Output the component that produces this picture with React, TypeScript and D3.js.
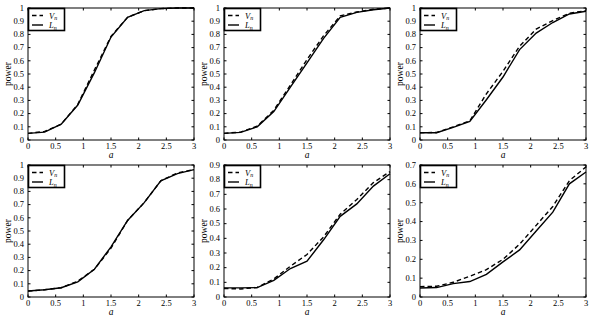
import React from "react";
import * as d3 from "d3";

const aValues = [0, 0.3, 0.6, 0.9, 1.2, 1.5, 1.8, 2.1, 2.4, 2.7, 3.0];
const xTicks = [0, 0.5, 1, 1.5, 2, 2.5, 3];

const v1 = [0.05, 0.065, 0.12, 0.27, 0.53, 0.785, 0.93, 0.98, 0.995, 1.0, 1.0];
const l1 = [0.05, 0.06, 0.12, 0.265, 0.51, 0.78, 0.93, 0.98, 0.995, 1.0, 1.0];
const v2 = [0.05, 0.06, 0.105, 0.225, 0.415, 0.61, 0.79, 0.94, 0.97, 0.99, 1.0];
const l2 = [0.05, 0.058, 0.1, 0.215, 0.4, 0.585, 0.77, 0.93, 0.967, 0.987, 1.0];
const v3 = [0.055, 0.057, 0.1, 0.145, 0.35, 0.52, 0.71, 0.84, 0.905, 0.96, 0.98];
const l3 = [0.055, 0.055, 0.095, 0.14, 0.305, 0.477, 0.685, 0.81, 0.89, 0.955, 0.975];
const v4 = [0.045, 0.055, 0.07, 0.12, 0.21, 0.37, 0.58, 0.715, 0.88, 0.94, 0.965];
const l4 = [0.045, 0.055, 0.07, 0.115, 0.21, 0.38, 0.58, 0.715, 0.88, 0.935, 0.965];
const v5 = [0.058, 0.055, 0.065, 0.123, 0.21, 0.29, 0.41, 0.565, 0.665, 0.78, 0.855];
const l5 = [0.062, 0.062, 0.064, 0.114, 0.194, 0.244, 0.39, 0.55, 0.635, 0.756, 0.84];
const v6 = [0.055, 0.057, 0.078, 0.11, 0.145, 0.2, 0.28, 0.38, 0.48, 0.617, 0.69];
const l6 = [0.048, 0.05, 0.071, 0.082, 0.12, 0.186, 0.25, 0.35, 0.45, 0.6, 0.663];

const yMaxes = [1, 1, 1, 1, 0.9, 0.7];
const vSeries = [v1, v2, v3, v4, v5, v6];
const lSeries = [l1, l2, l3, l4, l5, l6];

const colLefts = [28, 224, 420];
const rowTops = [8, 165];
const W = 166;
const H = 132;
const FONT = "Liberation Serif, Times New Roman, Times, serif";

function Panel({ idx }: { idx: number }) {
  const left = colLefts[idx % 3];
  const top = rowTops[Math.floor(idx / 3)];
  const yMax = yMaxes[idx];
  const x = d3.scaleLinear().domain([0, 3]).range([0, W]);
  const y = d3.scaleLinear().domain([0, yMax]).range([H, 0]);
  const yTicks = d3.range(0, Math.round(yMax * 10) + 1).map((k) => k / 10);
  const line = d3
    .line<number>()
    .x((_, i) => x(aValues[i]))
    .y((d) => y(d));
  const tl = 2.5;
  const fmt = (v: number) => (v === 0 ? "0" : v === 1 ? "1" : d3.format(".1f")(v));
  const txt = { fontFamily: FONT } as React.CSSProperties;
  return (
    <g transform={`translate(${left},${top})`}>
      <path d={line(vSeries[idx]) || ""} fill="none" stroke="#000" strokeWidth={1.4} strokeDasharray="4.5,3" />
      <path d={line(lSeries[idx]) || ""} fill="none" stroke="#000" strokeWidth={1.4} />
      {yTicks.map((t) => (
        <g key={"y" + t}>
          <line x1={0} x2={tl} y1={y(t)} y2={y(t)} stroke="#000" strokeWidth={1} />
          <line x1={W} x2={W - tl} y1={y(t)} y2={y(t)} stroke="#000" strokeWidth={1} />
          <text x={-4} y={y(t)} dy="0.33em" textAnchor="end" fontSize={8.5} fill="#000" style={txt}>
            {fmt(t)}
          </text>
        </g>
      ))}
      {xTicks.map((t) => (
        <g key={"x" + t}>
          <line x1={x(t)} x2={x(t)} y1={H} y2={H - tl} stroke="#000" strokeWidth={1} />
          <line x1={x(t)} x2={x(t)} y1={0} y2={tl} stroke="#000" strokeWidth={1} />
          <text x={x(t)} y={H + 9} textAnchor="middle" fontSize={8.5} fill="#000" style={txt}>
            {String(t)}
          </text>
        </g>
      ))}
      <rect x={0} y={0} width={W} height={H} fill="none" stroke="#000" strokeWidth={1} />
      <text x={W / 2} y={H + 17.5} textAnchor="middle" fontSize={9.5} fontStyle="italic" fill="#000" style={txt}>
        a
      </text>
      <text
        transform={`translate(${-20},${H / 2}) rotate(-90)`}
        textAnchor="middle"
        dy="0.3em"
        fontSize={9.5}
        fill="#000"
        style={txt}
      >
        power
      </text>
      <g>
        <rect x={0.5} y={0.5} width={36} height={22} fill="#fff" stroke="#000" strokeWidth={1.6} />
        <line x1={4} x2={15} y1={7.5} y2={7.5} stroke="#000" strokeWidth={1.4} strokeDasharray="4.5,3" />
        <line x1={4} x2={15} y1={17} y2={17} stroke="#000" strokeWidth={1.4} />
        <text x={21} y={10.5} fontSize={8.5} fontStyle="italic" fill="#000" style={txt}>
          V<tspan fontSize={6} dy={1.5}>n</tspan>
        </text>
        <text x={21} y={20} fontSize={8.5} fontStyle="italic" fill="#000" style={txt}>
          L<tspan fontSize={6} dy={1.5}>n</tspan>
        </text>
      </g>
    </g>
  );
}

export default function App() {
  return (
    <svg width={599} height={320} style={{ position: "absolute", left: 0, top: 0, background: "#fff" }}>
      <rect x={0} y={0} width={599} height={320} fill="#fff" />
      {[0, 1, 2, 3, 4, 5].map((i) => (
        <Panel key={i} idx={i} />
      ))}
    </svg>
  );
}
